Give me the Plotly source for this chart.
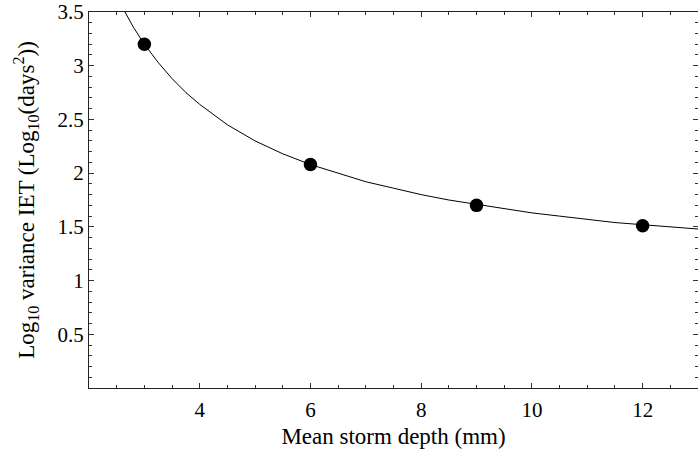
import plotly.graph_objects as go

# Observed data points
depth_pts = [3, 6, 9, 12]
logvar_pts = [3.20, 2.08, 1.70, 1.51]

# Fitted curve
curve_x = [2.65, 2.8, 3.0, 3.25, 3.5, 3.75, 4.0, 4.5, 5.0, 5.5, 6.0, 6.5, 7.0, 7.5, 8.0,
           8.5, 9.0, 9.5, 10.0, 10.5, 11.0, 11.5, 12.0, 12.5, 13.0]
curve_y = [3.50, 3.36, 3.20, 3.03, 2.88, 2.75, 2.64, 2.45, 2.30, 2.18, 2.08, 2.00, 1.92,
           1.86, 1.80, 1.75, 1.71, 1.67, 1.63, 1.60, 1.57, 1.54, 1.52, 1.50, 1.48]

x_ticks = [4, 6, 8, 10, 12]
y_ticks = [0.5, 1, 1.5, 2, 2.5, 3, 3.5]
y_tick_labels = ["0.5", "1", "1.5", "2", "2.5", "3", "3.5"]

FONT = "Liberation Serif"

fig = go.Figure()
fig.add_trace(go.Scatter(x=curve_x, y=curve_y, mode="lines",
                         line=dict(color="black", width=1), showlegend=False))
fig.add_trace(go.Scatter(x=depth_pts, y=logvar_pts, mode="markers",
                         marker=dict(color="black", size=13.5), showlegend=False))

axis_common = dict(showgrid=False, zeroline=False, showline=True, linecolor="#222",
                   linewidth=1.3, ticks="inside", tickcolor="#333", tickwidth=1,
                   ticklen=5, mirror="ticks", automargin=False,
                   tickfont=dict(family=FONT, size=21, color="black"))

fig.update_xaxes(range=[2, 13], tickvals=x_ticks, ticklabelstandoff=3,
                 minor=dict(dtick=0.5, ticks="inside", ticklen=3, tickcolor="#333"),
                 title=dict(text="Mean storm depth (mm)", standoff=6,
                            font=dict(family=FONT, size=23, color="black")),
                 **axis_common)
fig.update_yaxes(range=[0, 3.5], tickvals=y_ticks, ticktext=y_tick_labels,
                 minor=dict(dtick=0.1, ticks="inside", ticklen=3, tickcolor="#333"),
                 title=dict(text="Log<sub>10</sub> variance IET (Log<sub>10</sub>(days<sup>2</sup>))",
                            standoff=16,
                            font=dict(family=FONT, size=23, color="black")),
                 **axis_common)

fig.update_layout(width=698, height=458, margin=dict(l=89, r=0, t=12, b=70),
                  plot_bgcolor="white", paper_bgcolor="white")

fig.write_html("out.html", config={"displayModeBar": False},
               post_script="document.body.style.margin='0';document.body.style.overflow='hidden';")
